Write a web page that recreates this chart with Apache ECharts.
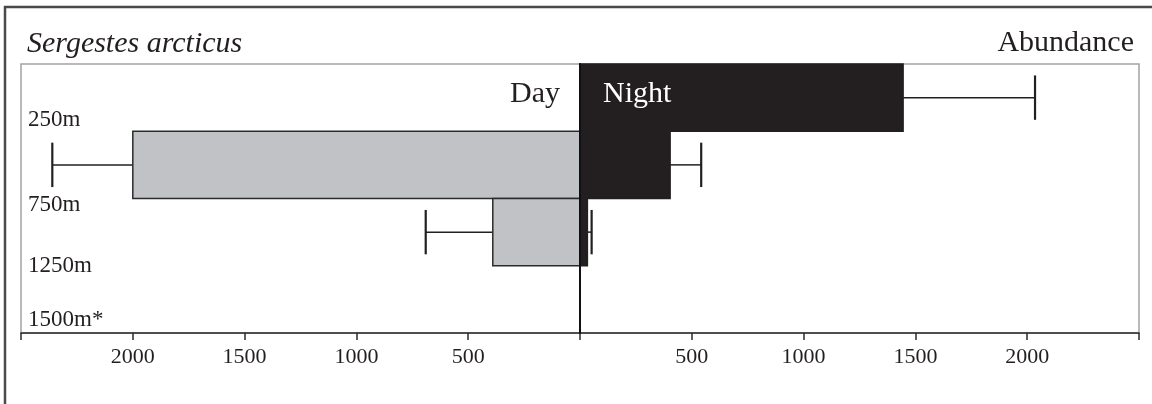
<!DOCTYPE html>
<html>
<head>
<meta charset="utf-8">
<script src="https://cdn.jsdelivr.net/npm/echarts@6.0.0/dist/echarts.min.js"></script>
<style>
  html, body { margin: 0; padding: 0; background: #fff; }
  #chart { width: 1152px; height: 404px; }
</style>
</head>
<body>
<div id="chart"></div>
<script>
// Depth strata, drawn as equal-height rows with the shallowest on top
const strata = ['0-250m', '250-750m', '750-1250m', '1250-1500m'];
// Depth labels, one at the lower edge of each stratum
const depthLabels = ['250m', '750m', '1250m', '1500m*'];
// Mean abundance and upper error bound per stratum (null = nothing caught)
const dayMean = [null, 2000, 390, null];
const dayUpper = [null, 2360, 690, null];
const nightMean = [1445, 403, 33, null];
const nightUpper = [2035, 542, 52, null];
// Abundance axis, mirrored around zero (day to the left, night to the right)
const abundanceTicks = [-2500, -2000, -1500, -1000, -500, 0, 500, 1000, 1500, 2000, 2500];
const labelledTicks = [500, 1000, 1500, 2000];

const SERIF = 'Liberation Serif, Times New Roman, serif';
const INK = '#231f20';

function rows(mean, upper) {
  return strata.map((s, i) => [i, mean[i], upper[i]]).filter(d => d[1] != null);
}

function barItem(sign, fill, stroke) {
  return function (params, api) {
    const row = api.value(0);
    const v = api.value(1);
    const a = api.coord([0, row]);
    const b = api.coord([sign * v, row + 1]);
    return {
      type: 'rect',
      shape: { x: Math.min(a[0], b[0]), y: a[1], width: Math.abs(b[0] - a[0]), height: b[1] - a[1] },
      style: { fill: fill, stroke: stroke, lineWidth: 1.5 }
    };
  };
}

function errorItem(sign) {
  return function (params, api) {
    const row = api.value(0);
    const mean = api.value(1);
    const up = api.value(2);
    const mid = row + 0.5;
    const from = api.coord([sign * mean, mid]);
    const to = api.coord([sign * up, mid]);
    const capTop = api.coord([sign * up, mid - 0.33]);
    const capBot = api.coord([sign * up, mid + 0.33]);
    return {
      type: 'group',
      children: [
        { type: 'line', shape: { x1: from[0], y1: from[1], x2: to[0], y2: to[1] },
          style: { stroke: INK, lineWidth: 1.5 } },
        { type: 'line', shape: { x1: capTop[0], y1: capTop[1], x2: capBot[0], y2: capBot[1] },
          style: { stroke: INK, lineWidth: 2.2 } }
      ]
    };
  };
}

const chart = echarts.init(document.getElementById('chart'), null, { renderer: 'canvas' });

chart.setOption({
  animation: false,
  backgroundColor: '#fff',
  grid: {
    left: 21, right: 13, top: 64, bottom: 71,
    show: true, borderColor: '#a3a3a3', borderWidth: 1.5, backgroundColor: 'transparent'
  },
  xAxis: {
    type: 'value',
    min: abundanceTicks[0],
    max: abundanceTicks[abundanceTicks.length - 1],
    interval: 500,
    axisLine: { show: true, onZero: false, lineStyle: { color: '#2b2b2b', width: 1.5 } },
    axisTick: { show: true, length: 7, lineStyle: { color: '#2b2b2b', width: 1.5 } },
    splitLine: { show: false },
    axisLabel: {
      margin: 13,
      fontFamily: SERIF, fontSize: 22, color: INK,
      formatter: v => labelledTicks.includes(Math.abs(v)) ? String(Math.abs(v)) : ''
    }
  },
  yAxis: {
    type: 'value',
    min: 0, max: strata.length,
    inverse: true,
    z: 3,
    axisLine: { show: true, onZero: true, lineStyle: { color: '#111', width: 2 } },
    axisTick: { show: false },
    axisLabel: { show: false },
    splitLine: { show: false }
  },
  series: [
    { type: 'custom', name: 'Day', renderItem: barItem(-1, '#c1c2c5', '#2b2b2b'),
      data: rows(dayMean, dayUpper), z: 2 },
    { type: 'custom', name: 'Night', renderItem: barItem(1, INK, INK),
      data: rows(nightMean, nightUpper), z: 2 },
    { type: 'custom', name: 'Day error', renderItem: errorItem(-1),
      data: rows(dayMean, dayUpper), z: 1 },
    { type: 'custom', name: 'Night error', renderItem: errorItem(1),
      data: rows(nightMean, nightUpper), z: 1 }
  ]
});

// Text placed against the chart's own scales
const origin = chart.convertToPixel({ gridIndex: 0 }, [0, 0.5]);
const labelNudge = [-11, 6, 0, -13];
const plotLeft = chart.convertToPixel({ gridIndex: 0 }, [abundanceTicks[0], 0])[0];

const graphics = [
  { type: 'rect', z: 0, silent: true,
    shape: { x: 5, y: 7, width: 1200, height: 500 },
    style: { fill: 'none', stroke: '#4a4a4a', lineWidth: 2.5 } },
  { type: 'text', x: 27, y: 44, z: 10,
    style: { text: 'Sergestes arcticus', font: 'italic 30px ' + SERIF, fill: INK,
             align: 'left', verticalAlign: 'middle' } },
  { type: 'text', x: 1134, y: 43, z: 10,
    style: { text: 'Abundance', font: '30px ' + SERIF, fill: INK,
             align: 'right', verticalAlign: 'middle' } },
  { type: 'text', x: origin[0] - 20, y: origin[1] - 4, z: 10,
    style: { text: 'Day', font: '30px ' + SERIF, fill: INK,
             align: 'right', verticalAlign: 'middle' } },
  { type: 'text', x: origin[0] + 23, y: origin[1] - 4, z: 10,
    style: { text: 'Night', font: '30px ' + SERIF, fill: '#ffffff',
             align: 'left', verticalAlign: 'middle' } }
];

depthLabels.forEach((label, i) => {
  const y = chart.convertToPixel({ gridIndex: 0 }, [0, i + 1])[1];
  graphics.push({
    type: 'text', x: plotLeft + 7, y: y + labelNudge[i], z: 10,
    style: { text: label, font: '23px ' + SERIF, fill: INK, align: 'left', verticalAlign: 'middle' }
  });
});

chart.setOption({ graphic: graphics });
</script>
</body>
</html>
